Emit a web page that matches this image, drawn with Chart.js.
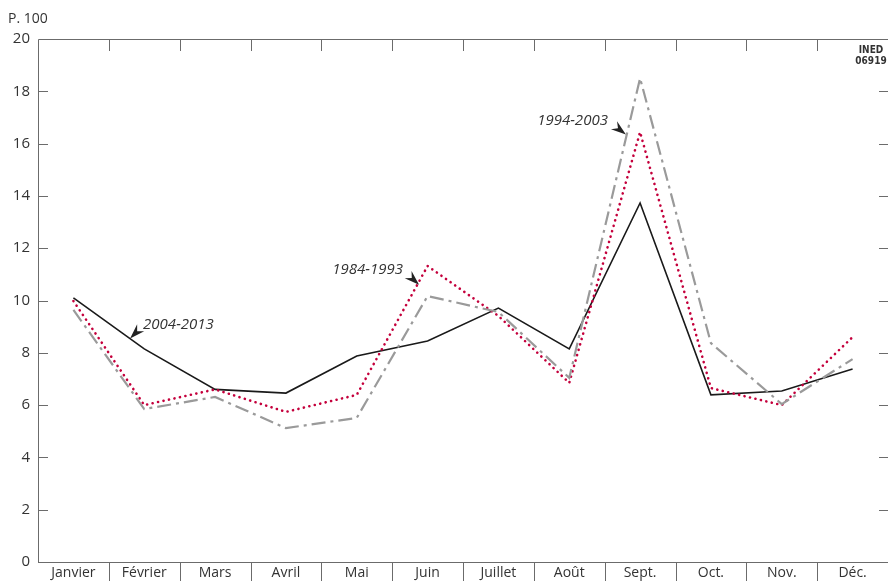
<!DOCTYPE html>
<html lang="fr">
<head>
<meta charset="utf-8">
<script src="https://cdn.jsdelivr.net/npm/chart.js@4"></script>
<style>
  html, body { margin: 0; padding: 0; background: #fff; }
  #wrap { width: 888px; height: 581px; position: relative; }
</style>
</head>
<body>
<div id="wrap"><canvas id="myChart"></canvas></div>
<script>
// === Données (pour 100 naissances / mois) ===
const months = ['Janvier', 'Février', 'Mars', 'Avril', 'Mai', 'Juin',
  'Juillet', 'Août', 'Sept.', 'Oct.', 'Nov.', 'Déc.'];

const serie19841993 = [9.98, 6.0, 6.6, 5.74, 6.39, 11.32, 9.41, 6.85, 16.44, 6.65, 6.0, 8.6];
const serie19942003 = [9.64, 5.85, 6.31, 5.12, 5.51, 10.17, 9.56, 7.04, 18.5, 8.37, 6.04, 7.76];
const serie20042013 = [10.1, 8.15, 6.6, 6.46, 7.88, 8.45, 9.71, 8.15, 13.73, 6.39, 6.54, 7.38];

const yTicks = [0, 2, 4, 6, 8, 10, 12, 14, 16, 18, 20];

// étiquettes : texte, point visé (indice de mois fractionnaire, valeur), décalage du texte
const labels = [
  { text: '2004-2013', x: 0.8, y: 8.55, dx: 13, dy: -13 },
  { text: '1984-1993', x: 4.88, y: 10.6, dx: -15, dy: -14 },
  { text: '1994-2003', x: 7.8, y: 16.35, dx: -17, dy: -13 }
];

const FONT = '"Open Sans", "Noto Sans", sans-serif';
const AXIS = '#6b6b6b';

// cadre, graduations internes et annotations
const decor = {
  id: 'decor',
  afterDraw(chart) {
    const { ctx, chartArea: a, scales: { x, y } } = chart;
    ctx.save();
    ctx.strokeStyle = AXIS;
    ctx.lineWidth = 1;
    ctx.beginPath();
    // cadre gauche, haut, bas
    ctx.moveTo(a.left + 0.5, a.bottom + 0.5);
    ctx.lineTo(a.left + 0.5, a.top + 0.5);
    ctx.lineTo(a.right, a.top + 0.5);
    ctx.moveTo(a.left, a.bottom + 0.5);
    ctx.lineTo(a.right, a.bottom + 0.5);
    // graduations verticales
    yTicks.forEach(v => {
      const py = Math.round(y.getPixelForValue(v)) + 0.5;
      if (v === 0 || v === 20) return;
      ctx.moveTo(a.left, py); ctx.lineTo(a.left + 10, py);
      ctx.moveTo(a.right, py); ctx.lineTo(a.right - 9, py);
    });
    // séparateurs des mois
    for (let i = 1; i < months.length; i++) {
      const px = Math.round(x.getPixelForValue(i - 0.5)) + 0.5;
      ctx.moveTo(px, a.top); ctx.lineTo(px, a.top + 12);
      ctx.moveTo(px, a.bottom); ctx.lineTo(px, chart.height);
    }
    ctx.stroke();

    // unité
    ctx.fillStyle = '#333';
    ctx.font = '14px ' + FONT;
    ctx.textBaseline = 'alphabetic';
    ctx.textAlign = 'left';
    ctx.fillText('P. 100', 8, 23);

    // INED
    ctx.font = 'bold 10px "DejaVu Sans Condensed", "Liberation Sans Narrow", sans-serif';
    ctx.textAlign = 'center';
    ctx.fillText('INED', 871, 53);
    ctx.fillText('06919', 871, 64);

    // annotations avec flèche
    labels.forEach(l => {
      const tx = x.getPixelForValue(l.x);
      const ty = y.getPixelForValue(l.y);
      const sx = tx + l.dx;
      const sy = ty + l.dy;
      const ang = Math.atan2(ty - sy, tx - sx);
      ctx.fillStyle = '#222';
      ctx.beginPath();
      ctx.moveTo(tx, ty);
      ctx.lineTo(tx - 15 * Math.cos(ang) + 5 * Math.sin(ang), ty - 15 * Math.sin(ang) - 5 * Math.cos(ang));
      ctx.lineTo(tx - 10 * Math.cos(ang), ty - 10 * Math.sin(ang));
      ctx.lineTo(tx - 15 * Math.cos(ang) - 5 * Math.sin(ang), ty - 15 * Math.sin(ang) + 5 * Math.cos(ang));
      ctx.closePath();
      ctx.fill();
      ctx.font = 'italic 15px ' + FONT;
      ctx.fillStyle = '#333';
      ctx.textBaseline = 'middle';
      ctx.textAlign = l.dx > 0 ? 'left' : 'right';
      ctx.fillText(l.text, sx + (l.dx > 0 ? 0 : -1), sy - 1);
    });
    ctx.restore();
  }
};

const ctx = document.getElementById('myChart').getContext('2d');
new Chart(ctx, {
  type: 'line',
  data: {
    labels: months,
    datasets: [
      {
        label: '1994-2003',
        data: serie19942003,
        borderColor: '#9a9a9a',
        borderWidth: 2.2,
        borderDash: [14, 5, 3, 5],
        pointRadius: 0,
        tension: 0,
        fill: false
      },
      {
        label: '1984-1993',
        data: serie19841993,
        borderColor: '#c4003c',
        borderWidth: 2.6,
        borderDash: [0.1, 5.5],
        borderCapStyle: 'round',
        pointRadius: 0,
        tension: 0,
        fill: false
      },
      {
        label: '2004-2013',
        data: serie20042013,
        borderColor: '#1a1a1a',
        borderWidth: 1.6,
        pointRadius: 0,
        tension: 0,
        fill: false
      }
    ]
  },
  options: {
    responsive: true,
    maintainAspectRatio: false,
    animation: false,
    layout: { padding: { top: 39, right: 0, bottom: 0, left: 0 } },
    plugins: {
      legend: { display: false },
      tooltip: { enabled: false }
    },
    scales: {
      x: {
        offset: true,
        border: { display: false },
        grid: { display: false },
        ticks: {
          color: '#333',
          font: { family: FONT, size: 14 },
          padding: -5,
          maxRotation: 0,
          autoSkip: false
        },
        afterFit(scale) { scale.height = 19; }
      },
      y: {
        min: 0,
        max: 20,
        border: { display: false },
        grid: { display: false },
        afterBuildTicks(scale) { scale.ticks = yTicks.map(v => ({ value: v })); },
        ticks: {
          color: '#333',
          font: { family: FONT, size: 15 },
          padding: 0
        },
        afterFit(scale) { scale.width = 38; }
      }
    }
  },
  plugins: [decor]
});
</script>
</body>
</html>
